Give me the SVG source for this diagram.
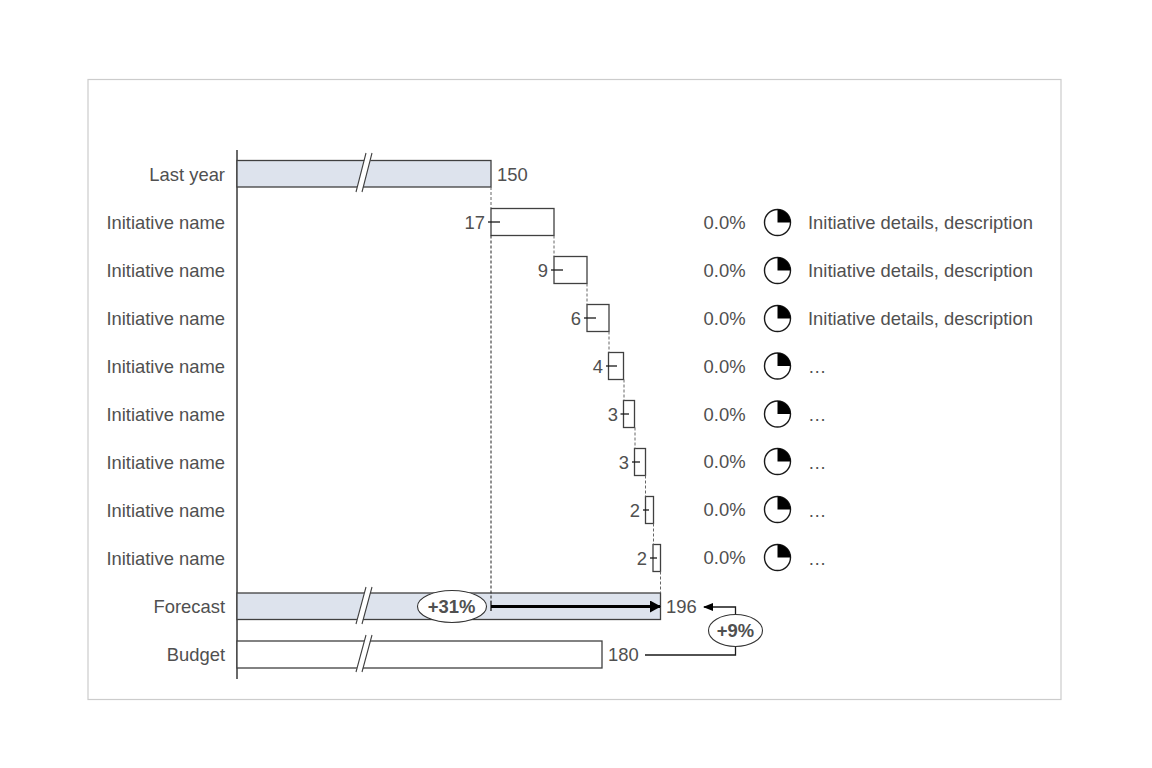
<svg xmlns="http://www.w3.org/2000/svg" width="1152" height="768" viewBox="0 0 1152 768">
<style>
text{font-family:"Liberation Sans",Arial,sans-serif;font-size:18.4px;fill:#505050}
.e{text-anchor:end}
.b{font-weight:bold;text-anchor:middle;font-size:18.4px}
.bar{stroke:#404040;stroke-width:1.3;fill:#fff}
.tot{fill:#dde3ed}
.dot{fill:none;stroke:#666;stroke-width:1;stroke-dasharray:3 2}
.ln{fill:none;stroke:#1a1a1a;stroke-width:1.3}
.brk{fill:none;stroke:#404040;stroke-width:1.1}
.pie{fill:#fff;stroke:#1a1a1a;stroke-width:1.4}
.q{fill:#000}
.oval{fill:#fff;stroke:#333;stroke-width:1.1}
</style>
<defs>
<marker id="a" markerWidth="10" markerHeight="8" refX="9" refY="4" orient="auto" markerUnits="userSpaceOnUse"><path d="M0 0L10 4L0 8Z" fill="#000"/></marker>
<marker id="t" markerWidth="11" markerHeight="12" refX="10" refY="6" orient="auto" markerUnits="userSpaceOnUse"><path d="M0 0L11 6L0 12Z" fill="#000"/></marker>
<g id="p"><circle class="pie" r="13"/><path class="q" d="M0 0V-13A13 13 0 0 1 13 0Z"/></g>
</defs>
<rect x="88" y="79.5" width="973" height="620" fill="#fff" stroke="#ccc" stroke-width="1.2"/>
<g id="axis"><path class="ln" d="M237 150V679"/></g>
<g id="last-year"><text class="e" x="225" y="180.500">Last year</text><rect class="bar tot" x="237" y="160.500" width="254" height="26.500"/><path d="M356 191L366 154H372L362 191Z" fill="#fff"/><path class="brk" d="M356 192L366 153M362 192L372 153"/><text x="497" y="180.500">150</text></g>
<g id="i1"><text class="e" x="225" y="228.500">Initiative name</text><rect class="bar" x="491" y="208.500" width="63" height="27"/><path class="ln" d="M488 222H500"/><text class="e" x="485" y="228.500">17</text><text class="e" x="745.500" y="229">0.0%</text><use href="#p" x="777.500" y="222.500"/><text x="808" y="229">Initiative details, description</text></g>
<g id="i2"><text class="e" x="225" y="276.500">Initiative name</text><rect class="bar" x="554" y="256.500" width="33" height="27"/><path class="ln" d="M551 270H563"/><text class="e" x="548" y="276.500">9</text><text class="e" x="745.500" y="277">0.0%</text><use href="#p" x="777.500" y="270.500"/><text x="808" y="277">Initiative details, description</text></g>
<g id="i3"><text class="e" x="225" y="324.500">Initiative name</text><rect class="bar" x="587" y="304.500" width="22" height="27"/><path class="ln" d="M584 318H596"/><text class="e" x="581" y="324.500">6</text><text class="e" x="745.500" y="325">0.0%</text><use href="#p" x="777.500" y="318.500"/><text x="808" y="325">Initiative details, description</text></g>
<g id="i4"><text class="e" x="225" y="372.500">Initiative name</text><rect class="bar" x="608.500" y="352.500" width="15" height="27"/><path class="ln" d="M606 366H617"/><text class="e" x="603" y="372.500">4</text><text class="e" x="745.500" y="372.500">0.0%</text><use href="#p" x="777.500" y="366"/><text x="808" y="373">…</text></g>
<g id="i5"><text class="e" x="225" y="420.500">Initiative name</text><rect class="bar" x="623.500" y="400.500" width="11" height="27"/><path class="ln" d="M620.500 414H629"/><text class="e" x="618" y="420.500">3</text><text class="e" x="745.500" y="420.500">0.0%</text><use href="#p" x="777.500" y="414"/><text x="808" y="421">…</text></g>
<g id="i6"><text class="e" x="225" y="468.500">Initiative name</text><rect class="bar" x="634.500" y="448.500" width="11" height="27"/><path class="ln" d="M632 462H640"/><text class="e" x="629" y="468.500">3</text><text class="e" x="745.500" y="468">0.0%</text><use href="#p" x="777.500" y="461.500"/><text x="808" y="469">…</text></g>
<g id="i7"><text class="e" x="225" y="516.500">Initiative name</text><rect class="bar" x="645.500" y="496.500" width="8" height="27"/><path class="ln" d="M643 510H649"/><text class="e" x="640" y="516.500">2</text><text class="e" x="745.500" y="516">0.0%</text><use href="#p" x="777.500" y="509.500"/><text x="808" y="517">…</text></g>
<g id="i8"><text class="e" x="225" y="564.500">Initiative name</text><rect class="bar" x="653" y="544.500" width="7.500" height="27"/><path class="ln" d="M650 558H657"/><text class="e" x="647" y="564.500">2</text><text class="e" x="745.500" y="564">0.0%</text><use href="#p" x="777.500" y="557.500"/><text x="808" y="565">…</text></g>
<g id="forecast"><text class="e" x="225" y="612.500">Forecast</text><rect class="bar tot" x="237" y="593" width="423.500" height="26.500"/><path d="M356 623L366 586H372L362 623Z" fill="#fff"/><path class="brk" d="M356 624L366 587M362 624L372 587"/><text x="666" y="612.500">196</text></g>
<g id="budget"><text class="e" x="225" y="660.500">Budget</text><rect class="bar" x="237" y="641" width="365" height="27"/><path d="M356 671L366 634H372L362 671Z" fill="#fff"/><path class="brk" d="M356 672L366 635M362 672L372 635"/><text x="608" y="660.500">180</text></g>
<g id="connectors">
<path class="dot" d="M491 187V208M554 235.500V256.500M587 283.500V304.500M609 331.500V352.500M624 379.500V400.500M635 427.500V448.500M645.500 475.500V496.500M653.500 523.500V544.500M660.500 571.500V593"/>
<path class="dot" style="stroke:#222" d="M491 235.500V601"/>
<path class="ln" d="M491 601V611"/>
<path fill="none" stroke="#000" stroke-width="3" marker-end="url(#t)" d="M491 606.500H660"/>
<path class="ln" d="M645 655H735.500V607H704" marker-end="url(#a)"/>
</g>
<g id="delta31"><ellipse class="oval" cx="452" cy="606.500" rx="34.500" ry="16"/><text class="b" x="451.500" y="612.800">+31%</text></g>
<g id="delta9"><ellipse class="oval" cx="735.500" cy="630.500" rx="27" ry="16"/><text class="b" x="735.500" y="636.800">+9%</text></g>
</svg>
